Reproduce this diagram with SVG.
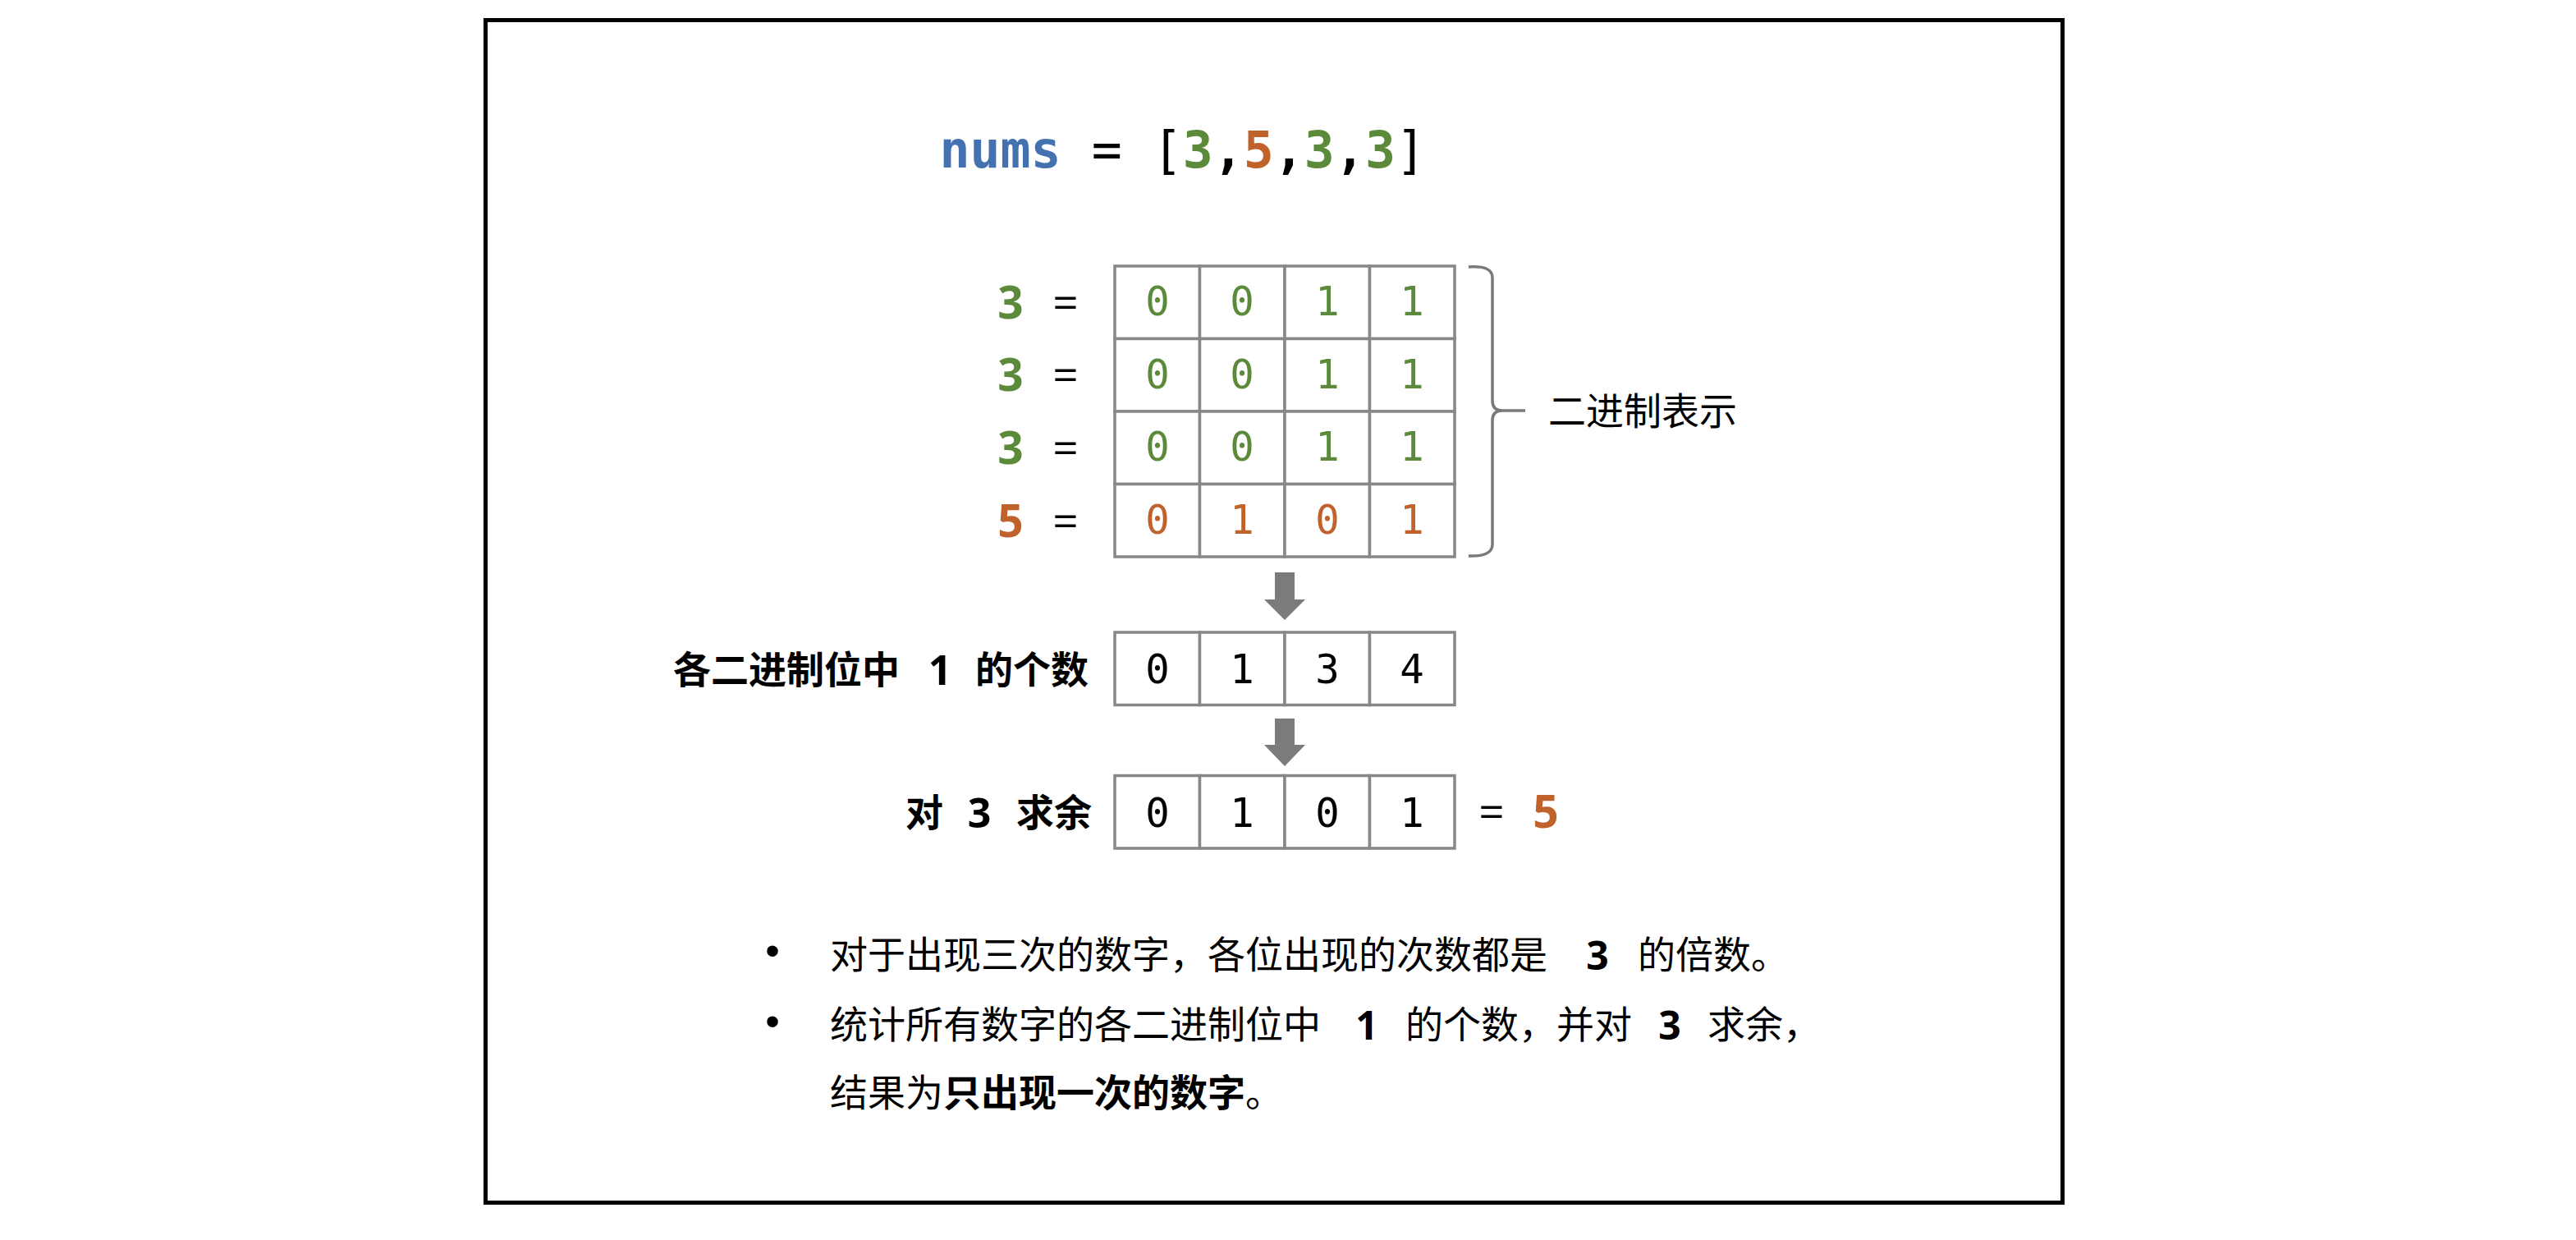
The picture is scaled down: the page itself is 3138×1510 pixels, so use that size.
<svg xmlns="http://www.w3.org/2000/svg" width="3138" height="1510" viewBox="0 0 3138 1510">
<style>
.cell{fill:#fff;stroke:#878787;stroke-width:3.5}
.mono{font-family:"DejaVu Sans Mono","Liberation Mono",monospace;font-size:49px;text-anchor:middle}
.lbl{font-family:"Open Sans","Liberation Sans",sans-serif;font-weight:700;font-size:55px;text-anchor:middle}
.eq{font-family:"Open Sans","Liberation Sans",sans-serif;font-weight:400;font-size:55px;text-anchor:middle;fill:#000}
.cjk{font-family:"Noto Sans CJK SC","Noto Sans",sans-serif;font-size:46px;fill:#000}
.b{font-weight:700}
.num{font-family:"Open Sans","Liberation Sans",sans-serif;font-weight:700;text-anchor:middle}
.dot{font-family:"Liberation Sans",Arial,sans-serif;font-size:50px;text-anchor:middle;fill:#000}
.g{fill:#5b8a3b}
.o{fill:#c0622b}
.k{fill:#000}
.arrow{fill:#7b7b7b}
.brace{fill:none;stroke:#7a7a7a;stroke-width:3.5}
</style>
<rect x="0" y="0" width="3138" height="1510" fill="#fff"/>
<rect id="frame" x="591.5" y="24.5" width="1921" height="1440" fill="#fff" stroke="#000" stroke-width="5"/>

<g id="title">
<text x="1144.5" y="204" font-family="'DejaVu Sans Mono',monospace" font-weight="700" font-size="61.5"><tspan fill="#4472b0">nums</tspan><tspan fill="#000" font-weight="400"> = [</tspan><tspan class="g">3</tspan><tspan fill="#000">,</tspan><tspan class="o">5</tspan><tspan fill="#000">,</tspan><tspan class="g">3</tspan><tspan fill="#000">,</tspan><tspan class="g">3</tspan><tspan fill="#000" font-weight="400">]</tspan></text>
</g>

<g id="row-labels">
<text class="lbl g" x="1231" y="388">3</text><text class="eq" x="1298" y="388">=</text>
<text class="lbl g" x="1231" y="476">3</text><text class="eq" x="1298" y="476">=</text>
<text class="lbl g" x="1231" y="565">3</text><text class="eq" x="1298" y="565">=</text>
<text class="lbl o" x="1231" y="654">5</text><text class="eq" x="1298" y="654">=</text>
</g>

<g id="binary-matrix">
<rect class="cell" x="1358" y="324" width="103.5" height="88.5"/><rect class="cell" x="1461.5" y="324" width="103.5" height="88.5"/><rect class="cell" x="1565" y="324" width="103.5" height="88.5"/><rect class="cell" x="1668.5" y="324" width="103.5" height="88.5"/>
<rect class="cell" x="1358" y="412.5" width="103.5" height="88.5"/><rect class="cell" x="1461.5" y="412.5" width="103.5" height="88.5"/><rect class="cell" x="1565" y="412.5" width="103.5" height="88.5"/><rect class="cell" x="1668.5" y="412.5" width="103.5" height="88.5"/>
<rect class="cell" x="1358" y="501" width="103.5" height="88.5"/><rect class="cell" x="1461.5" y="501" width="103.5" height="88.5"/><rect class="cell" x="1565" y="501" width="103.5" height="88.5"/><rect class="cell" x="1668.5" y="501" width="103.5" height="88.5"/>
<rect class="cell" x="1358" y="589.5" width="103.5" height="88.5"/><rect class="cell" x="1461.5" y="589.5" width="103.5" height="88.5"/><rect class="cell" x="1565" y="589.5" width="103.5" height="88.5"/><rect class="cell" x="1668.5" y="589.5" width="103.5" height="88.5"/>
<text class="mono g" x="1410" y="384">0</text><text class="mono g" x="1513" y="384">0</text><text class="mono g" x="1617" y="384">1</text><text class="mono g" x="1720" y="384">1</text>
<text class="mono g" x="1410" y="472.5">0</text><text class="mono g" x="1513" y="472.5">0</text><text class="mono g" x="1617" y="472.5">1</text><text class="mono g" x="1720" y="472.5">1</text>
<text class="mono g" x="1410" y="561">0</text><text class="mono g" x="1513" y="561">0</text><text class="mono g" x="1617" y="561">1</text><text class="mono g" x="1720" y="561">1</text>
<text class="mono o" x="1410" y="649.5">0</text><text class="mono o" x="1513" y="649.5">1</text><text class="mono o" x="1617" y="649.5">0</text><text class="mono o" x="1720" y="649.5">1</text>
</g>

<g id="brace-label">
<path class="brace" d="M1789 325 Q1818 323 1818 338 V488 Q1818 500 1830 500 Q1818 500 1818 512 V663 Q1818 678 1789 677 M1828 500 H1858"/>
<text class="cjk" x="1886" y="517">二进制表示</text>
</g>

<g id="count-row">
<text class="cjk b" x="820" y="832">各二进制位中</text>
<text class="num" x="1145" y="834" font-size="50">1</text>
<text class="cjk b" x="1188" y="832">的个数</text>
<rect class="cell" x="1358" y="770" width="103.5" height="88.5"/><rect class="cell" x="1461.5" y="770" width="103.5" height="88.5"/><rect class="cell" x="1565" y="770" width="103.5" height="88.5"/><rect class="cell" x="1668.5" y="770" width="103.5" height="88.5"/>
<text class="mono k" x="1410" y="832">0</text><text class="mono k" x="1513" y="832">1</text><text class="mono k" x="1617" y="832">3</text><text class="mono k" x="1720" y="832">4</text>
</g>

<g id="mod-row">
<text class="cjk b" x="1103" y="1006">对</text>
<text class="num" x="1193" y="1008" font-size="50">3</text>
<text class="cjk b" x="1238" y="1006">求余</text>
<rect class="cell" x="1358" y="944.5" width="103.5" height="88.5"/><rect class="cell" x="1461.5" y="944.5" width="103.5" height="88.5"/><rect class="cell" x="1565" y="944.5" width="103.5" height="88.5"/><rect class="cell" x="1668.5" y="944.5" width="103.5" height="88.5"/>
<text class="mono k" x="1410" y="1006.5">0</text><text class="mono k" x="1513" y="1006.5">1</text><text class="mono k" x="1617" y="1006.5">0</text><text class="mono k" x="1720" y="1006.5">1</text>
</g>

<g id="result">
<text class="eq" x="1817" y="1008">=</text>
<text class="lbl o" x="1883" y="1008">5</text>
</g>

<g id="connectors">
<path class="arrow" d="M1553 697 H1577 V730 H1590 L1565 755 L1540 730 H1553 Z"/>
<path class="arrow" d="M1553 875 H1577 V907 H1590 L1565 933 L1540 907 H1553 Z"/>
</g>

<g id="notes">
<text class="dot" x="941" y="1175">•</text>
<text class="dot" x="941" y="1261">•</text>
<text class="cjk" x="1011" y="1179" font-size="47">对于出现三次的数字，各位出现的次数都是</text>
<text class="num" x="1946" y="1181" font-size="48">3</text>
<text class="cjk" x="1995" y="1179" font-size="47">的倍数。</text>
<text class="cjk" x="1011" y="1264" font-size="47">统计所有数字的各二进制位中</text>
<text class="num" x="1665" y="1266" font-size="48">1</text>
<text class="cjk" x="1712" y="1264" font-size="47">的个数，并对</text>
<text class="num" x="2034" y="1266" font-size="48">3</text>
<text class="cjk" x="2080" y="1264" font-size="47">求余，</text>
<text class="cjk" x="1011" y="1347" font-size="47">结果为<tspan class="b">只出现一次的数字</tspan>。</text>
</g>
</svg>
